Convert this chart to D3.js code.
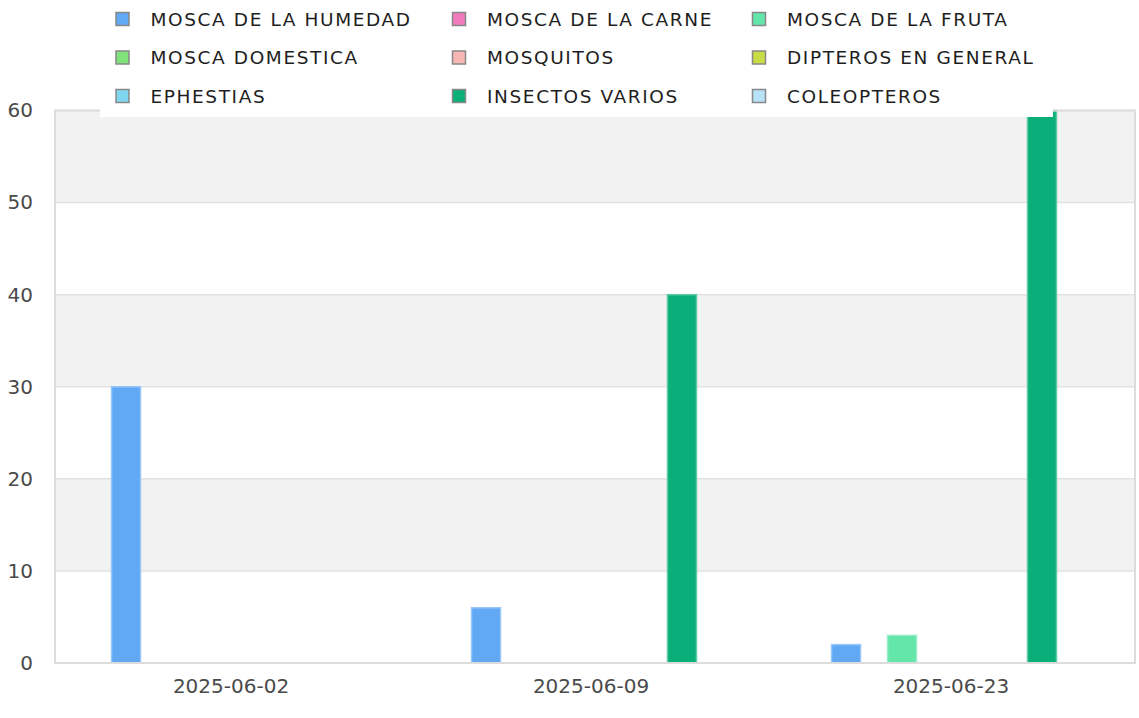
<!DOCTYPE html>
<html>
<head>
<meta charset="utf-8">
<script src="https://cdn.jsdelivr.net/npm/d3@7"></script>
<style>
  body { margin: 0; background: #fff; }
  svg { display: block; font-family: "DejaVu Sans", sans-serif; }
</style>
</head>
<body>
<svg width="1139" height="718"></svg>
<script>
// Categories (dates) and series
const dates = ["2025-06-02", "2025-06-09", "2025-06-23"];
const seriesNames = [
    "MOSCA DE LA HUMEDAD", "MOSCA DE LA CARNE", "MOSCA DE LA FRUTA",
    "MOSCA DOMESTICA", "MOSQUITOS", "DIPTEROS EN GENERAL",
    "EPHESTIAS", "INSECTOS VARIOS", "COLEOPTEROS"
];
const seriesColors = [
    "#61a8f5", "#f27bbd", "#64e5a9",
    "#80e27a", "#f7b6b3", "#c8dd44",
    "#7fd6f0", "#0aae79", "#b8e2f8"
];
// one row per series, one value per date
const seriesValues = [
    [30, 6, 2],
    [0, 0, 0],
    [0, 0, 3],
    [0, 0, 0],
    [0, 0, 0],
    [0, 0, 0],
    [0, 0, 0],
    [0, 40, 60],
    [0, 0, 0]
];
const yTicks = [0, 10, 20, 30, 40, 50, 60];

const svg = d3.select("svg");
const plot = { left: 55, right: 1135, top: 110.5, bottom: 663 };

const x0 = d3.scaleBand()
    .domain(dates)
    .range([plot.left, plot.right])
    .padding(0);

const x1 = d3.scaleBand()
    .domain(seriesNames)
    .range([0, x0.bandwidth()])
    .paddingInner(0)
    .paddingOuter(1.93);

const y = d3.scaleLinear()
    .domain([0, 60])
    .range([plot.bottom, plot.top]);

// alternating background bands
const bands = d3.range(0, yTicks.length - 1);
svg.append("g")
    .selectAll("rect")
    .data(bands)
    .join("rect")
    .attr("x", plot.left)
    .attr("width", plot.right - plot.left)
    .attr("y", i => y(yTicks[i + 1]))
    .attr("height", i => y(yTicks[i]) - y(yTicks[i + 1]))
    .attr("fill", i => (i % 2 === 1) ? "#f2f2f2" : "#ffffff");

// grid lines
svg.append("g")
    .selectAll("line")
    .data(yTicks)
    .join("line")
    .attr("x1", plot.left)
    .attr("x2", plot.right)
    .attr("y1", d => y(d))
    .attr("y2", d => y(d))
    .attr("stroke", "#e2e2e2")
    .attr("stroke-width", 1.5);

// bars
const barData = [];
seriesNames.forEach((s, si) => {
    dates.forEach((dt, di) => {
        const v = seriesValues[si][di];
        if (v > 0) barData.push({ series: s, date: dt, value: v, color: seriesColors[si] });
    });
});

svg.append("g")
    .attr("transform", "translate(2.5,0)")
    .selectAll("rect")
    .data(barData)
    .join("rect")
    .attr("x", d => x0(d.date) + x1(d.series))
    .attr("width", x1.bandwidth() + 1)
    .attr("y", d => y(d.value))
    .attr("height", d => y(0) - y(d.value))
    .attr("fill", d => d.color)
    .attr("stroke", d => d3.interpolateRgb(d.color, "#ffffff")(0.35))
    .attr("stroke-width", 1.5);

// plot border
svg.append("rect")
    .attr("x", plot.left)
    .attr("y", plot.top)
    .attr("width", plot.right - plot.left)
    .attr("height", plot.bottom - plot.top)
    .attr("fill", "none")
    .attr("stroke", "#dcdcdc")
    .attr("stroke-width", 2);

// y axis labels
const yAxis = d3.axisLeft(y).tickValues(yTicks).tickSize(0).tickPadding(0);
svg.append("g")
    .attr("transform", "translate(33,0)")
    .call(yAxis)
    .call(g => g.select(".domain").remove())
    .call(g => g.selectAll("text")
        .attr("font-family", "DejaVu Sans")
        .attr("font-size", 20)
        .attr("fill", "#4a4a4a"));

// x axis labels
const xAxis = d3.axisBottom(x0).tickSize(0).tickPadding(0);
svg.append("g")
    .attr("transform", `translate(-4,${plot.bottom + 16})`)
    .call(xAxis)
    .call(g => g.select(".domain").remove())
    .call(g => g.selectAll("text")
        .attr("font-family", "DejaVu Sans")
        .attr("font-size", 20)
        .attr("fill", "#4a4a4a"));

// legend, drawn on top of the plot
const legend = svg.append("g");
legend.append("rect")
    .attr("x", 100)
    .attr("y", 0)
    .attr("width", 953)
    .attr("height", 117)
    .attr("fill", "#fff");

const colX = [122.5, 459, 759];
const rowY = [19, 57.5, 96];

const items = legend.selectAll("g.item")
    .data(seriesNames)
    .join("g")
    .attr("class", "item")
    .attr("transform", (d, i) => `translate(${colX[i % 3]},${rowY[Math.floor(i / 3)]})`);

items.append("rect")
    .attr("x", -6.5)
    .attr("y", -6.5)
    .attr("width", 13)
    .attr("height", 13)
    .attr("fill", (d, i) => seriesColors[i])
    .attr("stroke", "#888")
    .attr("stroke-width", 1.5);

items.append("text")
    .attr("x", 28)
    .attr("y", 0)
    .attr("dy", "0.36em")
    .attr("font-size", 18.5)
    .attr("letter-spacing", 1.6)
    .attr("fill", "#1e1e1e")
    .text(d => d);
</script>
</body>
</html>
